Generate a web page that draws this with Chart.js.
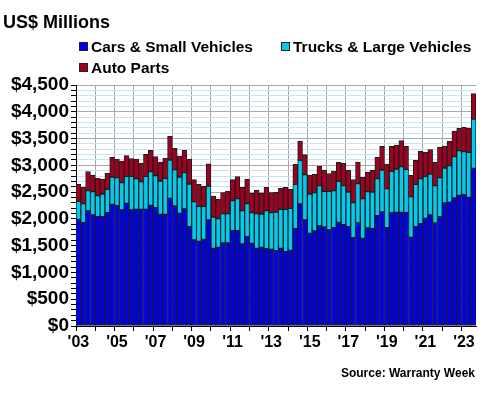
<!DOCTYPE html>
<html>
<head>
<meta charset="utf-8">
<script src="https://cdn.jsdelivr.net/npm/chart.js@4.4.0/dist/chart.umd.min.js"></script>
<style>
  body { margin: 0; background: #fff; font-family: "Liberation Sans", Arial, sans-serif; }
  #wrap { position: relative; width: 480px; height: 400px; }
  #wrap canvas { position: absolute; left: 0; top: 0; }
  .txt { position: absolute; font-weight: bold; color: #000; line-height: 1; white-space: nowrap; }
  .box { position: absolute; width: 7px; height: 7px; border: 1px solid #222; }
</style>
</head>
<body>
<div id="wrap">
  <canvas id="chart" width="480" height="400"></canvas>
  <div class="txt" style="left:3px; top:13px; font-size:18px;">US$ Millions</div>
  <div id="legend"></div>
  <div class="txt" style="right:5px; top:367px; font-size:12px;">Source: Warranty Week</div>
</div>
<script>
// quarterly warranty claims, 2003 Q1 .. 2023 Q3 (US$ millions)
const firstYear = 2003;
const seriesNames = ["Cars & Small Vehicles", "Trucks & Large Vehicles", "Auto Parts"];
const seriesColors = ["#0000ee", "#00ccee", "#a00020"];

const cars = [1992,1929,2153,2073,2041,2041,2116,2272,2247,2166,
  2290,2166,2178,2178,2178,2253,2210,2085,2085,2384,
  2241,2104,2185,1855,1606,1581,1618,1979,1450,1469,
  1550,1550,1780,1780,1531,1668,1544,1450,1469,1444,
  1432,1407,1450,1388,1413,1817,2278,1979,1730,1774,
  1867,1849,1793,1836,1936,1892,1855,1649,1923,1637,
  1830,1817,2060,2129,1836,2110,2122,2122,2116,1656,
  1855,1911,2010,2073,1923,2041,2297,2309,2390,2440,
  2452,2402,2944];
const trucks = [336,355,374,435,393,424,436,510,523,510,
  505,629,573,517,617,629,597,622,672,716,
  678,678,678,796,716,653,616,635,585,535,
  547,547,560,598,622,616,572,647,622,709,
  684,722,728,790,784,828,815,847,735,716,
  753,665,721,691,765,728,647,654,735,741,
  678,685,691,784,728,778,810,853,809,759,
  790,840,785,765,697,729,653,685,772,834,
  803,841,921];
const parts = [317,311,355,311,323,280,299,367,348,405,
  385,329,361,342,410,398,355,355,374,441,
  398,392,417,467,410,411,374,416,392,361,
  393,424,392,410,436,455,361,442,386,436,
  374,367,393,411,355,374,361,373,354,342,
  361,399,330,367,355,417,411,429,404,398,
  367,405,398,442,461,467,448,486,430,398,
  448,510,454,455,442,572,411,454,479,417,
  454,454,473];

const labels = cars.map((_, i) => (firstYear + Math.floor(i / 4)) + " Q" + (i % 4 + 1));
const seriesData = [cars, trucks, parts];

// legend in two columns like the original
const legendPos = [[79, 39], [281, 39], [79, 60]];
const legendEl = document.getElementById("legend");
seriesNames.forEach((name, i) => {
  const [x, y] = legendPos[i];
  const b = document.createElement("div");
  b.className = "box";
  b.style.left = x + "px";
  b.style.top = (y + 3) + "px";
  b.style.background = seriesColors[i];
  legendEl.appendChild(b);
  const t = document.createElement("div");
  t.className = "txt";
  t.style.left = (x + 12) + "px";
  t.style.top = y + "px";
  t.style.fontSize = "15.5px";
  t.textContent = name;
  legendEl.appendChild(t);
});

const ctx = document.getElementById("chart").getContext("2d");
new Chart(ctx, {
  type: "bar",
  data: {
    labels: labels,
    datasets: seriesNames.map((name, i) => ({
      label: name,
      data: seriesData[i],
      backgroundColor: seriesColors[i],
      borderColor: "#1c1c1c",
      borderWidth: 1,
      borderSkipped: false,
      barPercentage: 1,
      categoryPercentage: 1,
    })),
  },
  options: {
    responsive: false,
    animation: false,
    layout: { padding: { top: 85, right: 4, left: 0, bottom: 0 } },
    plugins: {
      legend: { display: false },
      tooltip: { enabled: false },
    },
    scales: {
      x: {
        stacked: true,
        afterFit: (s) => { s.height = 74; },
        border: { color: "#000", width: 1 },
        grid: {
          offset: true,
          color: (c) => (c.index % 4 === 0 ? "#a8a8a8" : "rgba(0,0,0,0)"),
          tickColor: (c) => (c.index % 4 === 0 ? "#000" : "rgba(0,0,0,0)"),
          tickLength: 5,
        },
        ticks: {
          autoSkip: false,
          maxRotation: 0,
          padding: 2,
          color: "#000",
          font: { family: "'Liberation Sans', Arial", size: 16, weight: "bold" },
          callback: (v, i) => (i % 8 === 0 ? "'" + String(firstYear + i / 4).slice(2) : ""),
        },
      },
      y: {
        stacked: true,
        min: 0,
        max: 4500,
        afterFit: (s) => { s.width = 76; },
        border: { color: "#000", width: 1 },
        grid: {
          color: (c) => (c.tick.value % 500 === 0 ? "#a8a8a8" : "#c4e2f8"),
          tickColor: "#000",
          tickLength: 5,
        },
        ticks: {
          stepSize: 100,
          autoSkip: false,
          padding: 2,
          color: "#000",
          font: { family: "'Liberation Sans', Arial", size: 19, weight: "bold" },
          callback: (v) => (v % 500 === 0 ? "$" + v.toLocaleString("en-US") : ""),
        },
      },
    },
  },
});
</script>
</body>
</html>
